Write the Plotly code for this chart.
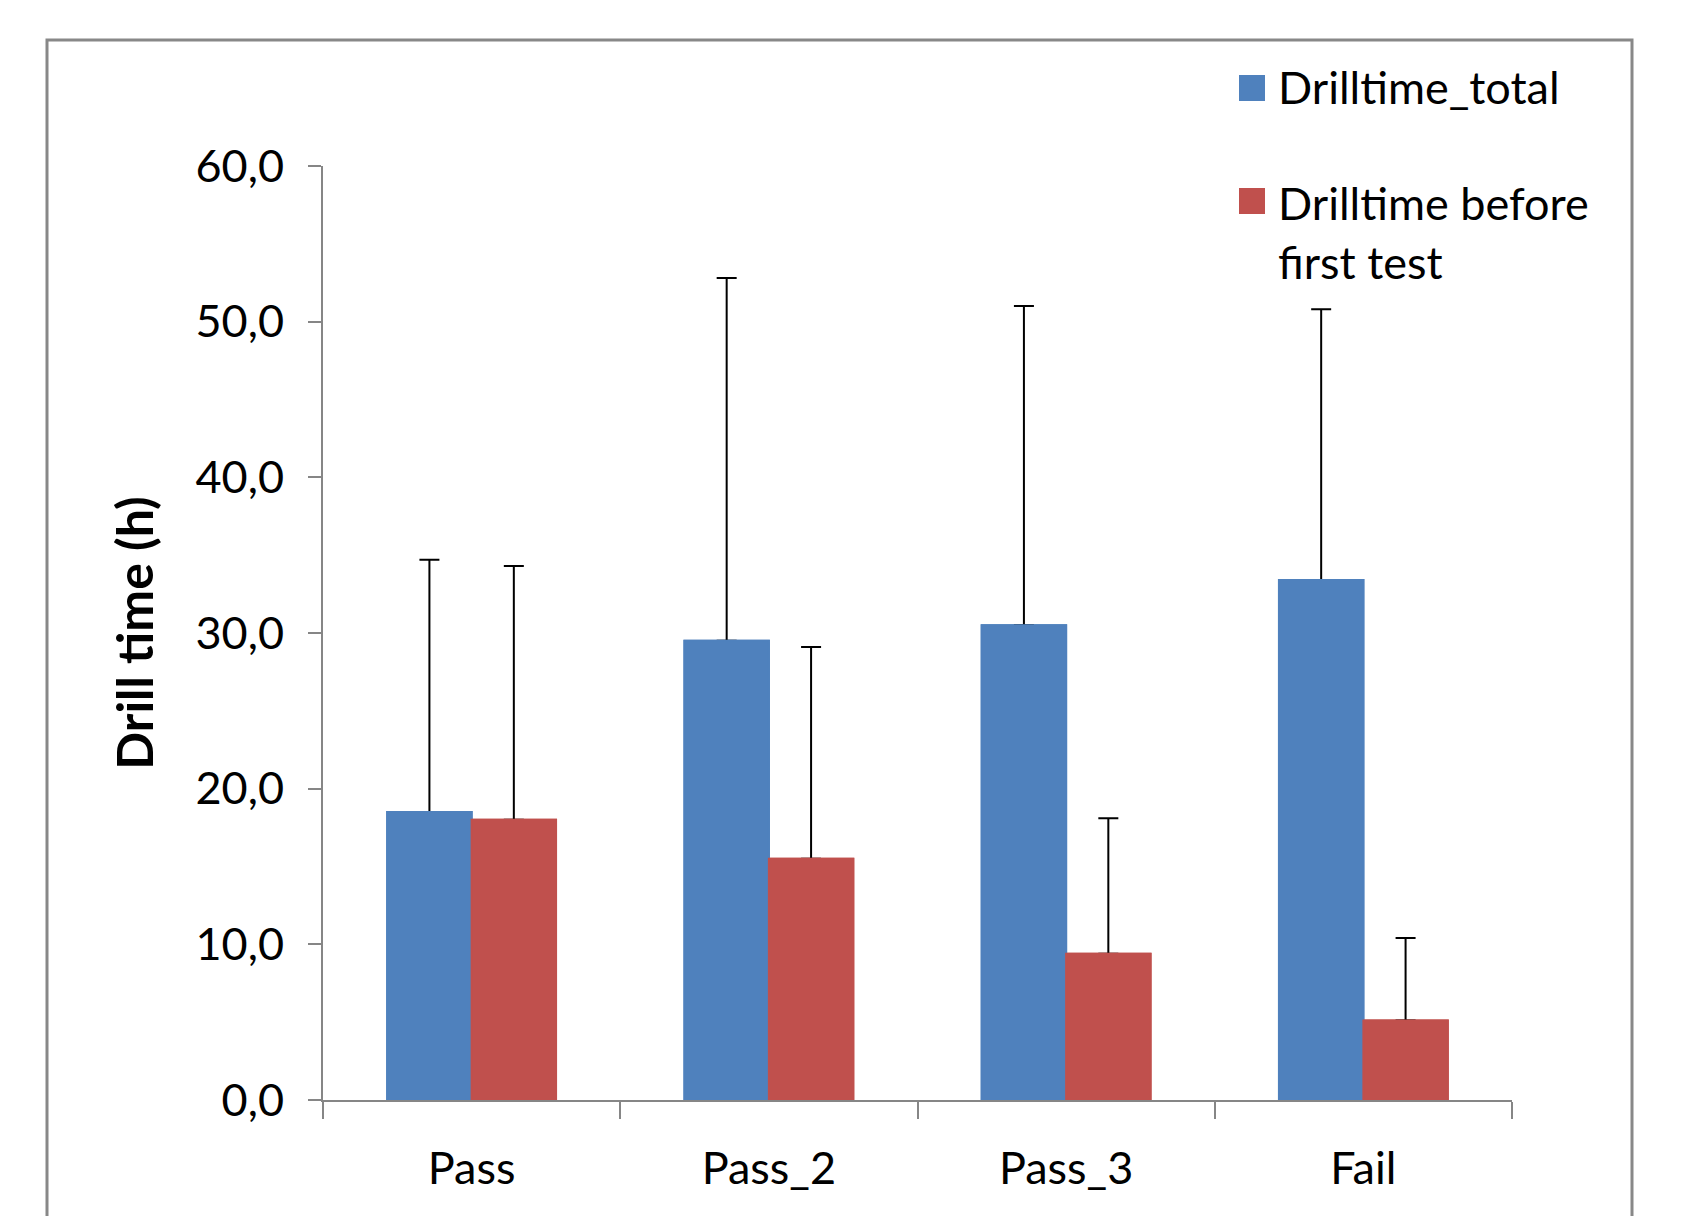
import plotly.graph_objects as go

categories = ["Pass", "Pass_2", "Pass_3", "Fail"]
series_names = ["Drilltime_total", "Drilltime before<br>first test"]
total_values = [18.5, 29.5, 30.5, 33.4]
total_err_plus = [16.2, 23.3, 20.5, 17.4]
before_values = [18.0, 15.5, 9.4, 5.1]
before_err_plus = [16.3, 13.6, 8.7, 5.3]
y_tickvals = [0, 10, 20, 30, 40, 50, 60]

BLUE = "#4F81BD"
RED = "#C0504D"
GRAY = "#868686"
FONT = "Lato"
FS = 45

fig = go.Figure()

def bar(name, vals, color, group, err=None, show=False):
    kw = {}
    if err is not None:
        kw["error_y"] = dict(type="data", symmetric=False, array=err,
                             arrayminus=[0] * len(err), color="#000000",
                             thickness=2, width=10)
    return go.Bar(x=categories, y=vals, name=name, offsetgroup=group,
                  marker=dict(color=color, line=dict(color=color, width=2)),
                  showlegend=show, **kw)

# bars with one-sided error bars
fig.add_trace(bar(series_names[0], total_values, BLUE, "a", total_err_plus))
fig.add_trace(bar(series_names[1], before_values, RED, "b", before_err_plus))
# same bars redrawn on top so the lower error cap is hidden
fig.add_trace(bar(series_names[0], total_values, BLUE, "a"))
fig.add_trace(bar(series_names[1], before_values, RED, "b"))

OFF = 8  # default page body margin
PAGE_W, PAGE_H = 1685, 1216
W, H = PAGE_W - OFF, PAGE_H - OFF
# plot area in page pixels
PX0, PX1, PY0, PY1 = 323, 1512, 166, 1100
L, T = PX0 - OFF, PY0 - OFF
R, B = W - (PX1 - OFF), H - (PY1 - OFF)
pw, ph = PX1 - PX0, PY1 - PY0

def px_x(x):
    return (x - PX0) / pw

def px_y(y):
    return (PY1 - y) / ph

shapes = [
    # outer chart frame
    dict(type="rect", xref="paper", yref="paper",
         x0=px_x(47), x1=px_x(1632), y0=px_y(1245), y1=px_y(40),
         line=dict(color="#888888", width=3), layer="below"),
    # legend swatches
    dict(type="rect", xref="paper", yref="paper",
         x0=px_x(1239), x1=px_x(1265), y0=px_y(101), y1=px_y(75),
         line=dict(width=0), fillcolor=BLUE),
    dict(type="rect", xref="paper", yref="paper",
         x0=px_x(1239), x1=px_x(1265), y0=px_y(214), y1=px_y(188),
         line=dict(width=0), fillcolor=RED),
]
annotations = [
    dict(text=series_names[0], xref="paper", yref="paper", x=px_x(1276),
         y=px_y(87), xanchor="left", yanchor="middle", showarrow=False,
         align="left", font=dict(family=FONT, size=FS, color="#000000")),
    dict(text=series_names[1], xref="paper", yref="paper", x=px_x(1276),
         y=px_y(232), xanchor="left", yanchor="middle", showarrow=False,
         align="left", font=dict(family=FONT, size=FS, color="#000000")),
]

fig.update_layout(
    width=W, height=H,
    margin=dict(l=L, r=R, t=T, b=B, autoexpand=False),
    paper_bgcolor="white", plot_bgcolor="white",
    barmode="group", bargap=0.432, bargroupgap=0,
    separators=",.",
    showlegend=False,
    font=dict(family=FONT, size=FS, color="#000000"),
    shapes=shapes, annotations=annotations,
    xaxis=dict(
        type="category", categoryorder="array", categoryarray=categories,
        showline=True, linecolor=GRAY, linewidth=2,
        ticks="outside", tickson="boundaries", ticklen=17, tickwidth=1.5,
        tickcolor=GRAY, showgrid=False, zeroline=False,
        ticklabelstandoff=28,
        tickfont=dict(family=FONT, size=FS, color="#000000"),
    ),
    yaxis=dict(
        range=[0, 60], tickvals=y_tickvals, tickformat=".1f",
        showline=True, linecolor=GRAY, linewidth=2,
        ticks="outside", ticklen=13, tickwidth=1.5, tickcolor=GRAY,
        showgrid=False, zeroline=False, ticklabelstandoff=15,
        tickfont=dict(family=FONT, size=FS, color="#000000"),
        title=dict(text="<b>Drill time (h)</b>", standoff=26,
                   font=dict(family=FONT, size=50, color="#000000")),
    ),
)

fig.write_html("out.html")
